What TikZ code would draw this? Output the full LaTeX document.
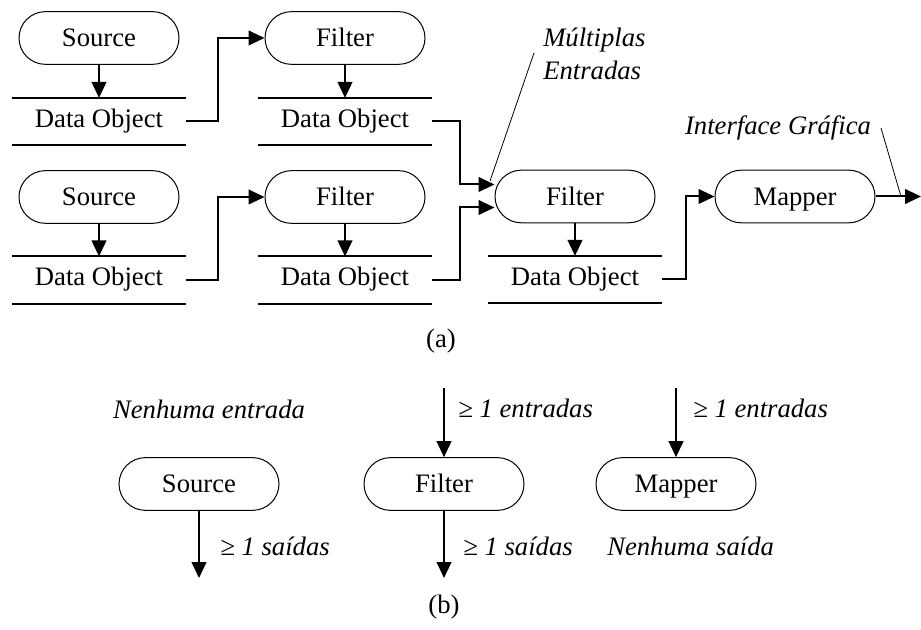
\documentclass[tikz,border=0pt]{standalone}
\usepackage{fontspec}
\setmainfont{Liberation Serif}
\usetikzlibrary{arrows.meta,calc}
\begin{document}
\begin{tikzpicture}[x=0.75pt,y=-0.75pt,
  font=\fontsize{20}{24.75}\selectfont,
  proc/.style={draw,line width=0.75pt,minimum width=120pt,minimum height=39.5pt,rounded corners=19.75pt,inner sep=0pt,text height=17.7pt,text depth=4.5pt},
  dobj/.style={minimum width=130pt,minimum height=35pt,inner sep=0pt,text height=13.5pt,text depth=4.5pt,
    append after command={\pgfextra{\let\mynode\tikzlastnode}
      (\mynode.north west) edge[line width=1.5pt] (\mynode.north east)
      (\mynode.south west) edge[line width=1.5pt] (\mynode.south east)}},
  conn/.style={line width=1.5pt,-{Triangle[length=12pt,width=11pt]}},
  lead/.style={line width=0.6pt},
  lbl/.style={inner sep=0pt,text height=13.5pt,text depth=4.5pt,font=\fontsize{20}{24.75}\selectfont\itshape}
]
\useasboundingbox (0,0) rectangle (921,630);
% part (a)
\node[proc] (s1) at (99,38) {Source};
\node[proc] (f1) at (345,38) {Filter};
\node[dobj] (d1) at (99,121.5) {Data Object};
\node[dobj] (d2) at (345,121.5) {Data Object};
\node[proc] (s2) at (99,197) {Source};
\node[proc] (f2) at (345,197) {Filter};
\node[dobj] (d3) at (99,280) {Data Object};
\node[dobj] (d4) at (345,280) {Data Object};
\node[proc] (f3) at (575,196.5) {Filter};
\node[dobj] (d5) at (575,279.5) {Data Object};
\node[proc] (m) at (795,196.5) {Mapper};
\coordinate (out) at (921,196.5);

\draw[conn] (s1) -- (d1.north);
\draw[conn] (f1) -- (d2.north);
\draw[conn] (s2) -- (d3.north);
\draw[conn] (f2) -- (d4.north);
\draw[conn] (f3) -- (d5.north);

\draw[conn] (d1.east) -- ++(32,0) |- (f1.west);
\draw[conn] (d3.east) -- ++(32,0) |- (f2.west);
\draw[conn] (d2.east) -- (460,121.5) |- ($(f3.west)+(0,-12)$);
\draw[conn] (d4.east) -- (460,280) |- ($(f3.west)+(0,11)$);
\draw[conn] (d5.east) -- (686,279.5) |- (m.west);
\draw[conn] (m.east) -- (out);

\node[lbl,align=left,anchor=west,text height=,text depth=] (me) at (543,53.5) {Múltiplas\\Entradas};
\coordinate (me1) at (534,53);
\coordinate (me2) at (490,181);
\draw[lead] (me1) -- (me2);
\node[lbl] (ig) at (778,129) {Interface Gráfica};
\coordinate (ig1) at (881,128);
\coordinate (ig2) at (901,196.5);
\draw[lead] (ig1) -- (ig2);

\node[inner sep=0pt,text height=13.5pt,text depth=4.5pt] (la) at (441,342) {(a)};

% part (b)
\node[proc] (sb) at (199,484) {Source};
\node[proc] (fb) at (444,484) {Filter};
\node[proc] (mb) at (676,484) {Mapper};
\coordinate (sbo) at (199,578);
\coordinate (fbi) at (444,388);
\coordinate (fbo) at (444,578);
\coordinate (mbi) at (676,388);
\draw[conn] (sb) -- (sbo);
\draw[conn] (fbi) -- (fb);
\draw[conn] (fb) -- (fbo);
\draw[conn] (mbi) -- (mb);

\node[lbl] (ne) at (209,413) {Nenhuma entrada};
\node[lbl,anchor=west] (s1s) at (220,550) {≥ 1 saídas};
\node[lbl,anchor=west] (f1e) at (458,412) {≥ 1 entradas};
\node[lbl,anchor=west] (f1s) at (463,550) {≥ 1 saídas};
\node[lbl,anchor=west] (m1e) at (693,412) {≥ 1 entradas};
\node[lbl,anchor=west] (ns) at (607,550) {Nenhuma saída};

\node[inner sep=0pt,text height=13.5pt,text depth=4.5pt] (lb) at (444,607) {(b)};
\end{tikzpicture}
\end{document}
